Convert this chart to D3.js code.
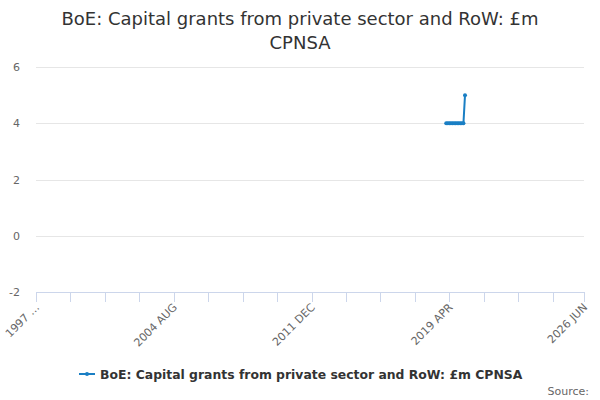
<!DOCTYPE html>
<html>
<head>
<meta charset="utf-8">
<script src="https://cdn.jsdelivr.net/npm/d3@7"></script>
<style>
  body { margin: 0; background: #fff; }
  text { font-family: "DejaVu Sans", sans-serif; }
</style>
</head>
<body>
<div id="chart"></div>
<script>
const width = 600;
const height = 400;
const marginLeft = 36;
const marginRight = 16;
const plotTop = 67;
const plotBottom = 292;

const titleLines = ["BoE: Capital grants from private sector and RoW: £m", "CPNSA"];
const seriesName = "BoE: Capital grants from private sector and RoW: £m CPNSA";

// monthly categories, 1997 APR .. 2026 JUN
const firstMonth = { year: 1997, month: 4 };
const lastMonth = { year: 2026, month: 6 };
const monthNames = ["JAN", "FEB", "MAR", "APR", "MAY", "JUN", "JUL", "AUG", "SEP", "OCT", "NOV", "DEC"];

// series values (only these months have data)
const dataMonths = [
  "2019 FEB", "2019 MAR", "2019 APR", "2019 MAY", "2019 JUN", "2019 JUL",
  "2019 AUG", "2019 SEP", "2019 OCT", "2019 NOV", "2019 DEC", "2020 JAN", "2020 FEB"
];
const dataValues = [4, 4, 4, 4, 4, 4, 4, 4, 4, 4, 4, 4, 5];

const yTicks = [-2, 0, 2, 4, 6];
const tickStep = 22;
const labelledTicks = ["1997 …", "2004 AUG", "2011 DEC", "2019 APR", "2026 JUN"];

const monthIndex = (label) => {
  const [y, m] = label.split(" ");
  return (+y - firstMonth.year) * 12 + monthNames.indexOf(m) - (firstMonth.month - 1);
};
const lastIndex = (lastMonth.year - firstMonth.year) * 12 + lastMonth.month - firstMonth.month;

const x = d3.scaleLinear()
  .domain([0, lastIndex])
  .range([marginLeft, width - marginRight]);

const y = d3.scaleLinear()
  .domain([-2, 6])
  .range([plotBottom, plotTop]);

const svg = d3.select("#chart").append("svg")
  .attr("width", width)
  .attr("height", height);

// Title
svg.append("text")
  .attr("x", width / 2)
  .attr("text-anchor", "middle")
  .attr("fill", "#333")
  .style("font-size", "18px")
  .selectAll("tspan")
  .data(titleLines)
  .join("tspan")
  .attr("x", width / 2)
  .attr("y", (d, i) => 25 + i * 24)
  .text(d => d);

// Gridlines + y labels
const yAxis = svg.append("g");
yAxis.selectAll("line")
  .data(yTicks.filter(d => d !== -2))
  .join("line")
  .attr("x1", marginLeft)
  .attr("x2", width - marginRight)
  .attr("y1", d => Math.round(y(d)) + 0.5)
  .attr("y2", d => Math.round(y(d)) + 0.5)
  .attr("stroke", "#e6e6e6");
yAxis.selectAll("text")
  .data(yTicks)
  .join("text")
  .attr("x", 20)
  .attr("y", d => y(d) + 4)
  .attr("text-anchor", "end")
  .attr("fill", "#666")
  .style("font-size", "11px")
  .text(d => d);

// X axis
const tickValues = d3.range(0, lastIndex, tickStep).concat([lastIndex]);
const labelFor = new Map([[0, labelledTicks[0]], [88, labelledTicks[1]], [176, labelledTicks[2]], [264, labelledTicks[3]], [lastIndex, labelledTicks[4]]]);

const xAxis = svg.append("g");
xAxis.append("line")
  .attr("x1", marginLeft)
  .attr("x2", width - marginRight)
  .attr("y1", plotBottom + 0.5)
  .attr("y2", plotBottom + 0.5)
  .attr("stroke", "#ccd6eb");
xAxis.selectAll(".tick")
  .data(tickValues)
  .join("line")
  .attr("class", "tick")
  .attr("x1", d => Math.round(x(d)) + 0.5)
  .attr("x2", d => Math.round(x(d)) + 0.5)
  .attr("y1", plotBottom)
  .attr("y2", plotBottom + 10)
  .attr("stroke", "#ccd6eb");
xAxis.selectAll(".xlabel")
  .data(tickValues.filter(d => labelFor.has(d)))
  .join("text")
  .attr("class", "xlabel")
  .attr("text-anchor", "end")
  .attr("fill", "#666")
  .style("font-size", "11px")
  .attr("transform", d => `translate(${x(d) + 4},${plotBottom + 16}) rotate(-45)`)
  .text(d => labelFor.get(d));

// Series
const color = "#1a7fc4";
const points = dataMonths.map((m, i) => ({ i: monthIndex(m), v: dataValues[i] }));
const line = d3.line().x(d => x(d.i)).y(d => y(d.v));
svg.append("path")
  .datum(points)
  .attr("fill", "none")
  .attr("stroke", color)
  .attr("stroke-width", 2)
  .attr("d", line);
svg.append("g")
  .selectAll("circle")
  .data(points)
  .join("circle")
  .attr("cx", d => x(d.i))
  .attr("cy", d => y(d.v))
  .attr("r", 2)
  .attr("fill", color);

// Legend
const legend = svg.append("g");
legend.append("line")
  .attr("x1", 79).attr("x2", 95)
  .attr("y1", 374).attr("y2", 374)
  .attr("stroke", color).attr("stroke-width", 2);
legend.append("circle")
  .attr("cx", 87).attr("cy", 374).attr("r", 2).attr("fill", color);
legend.append("text")
  .attr("x", 100)
  .attr("y", 378.5)
  .attr("fill", "#333")
  .style("font-size", "12.4px")
  .style("font-weight", "bold")
  .text(seriesName);

// Source
svg.append("text")
  .attr("x", 589)
  .attr("y", 395)
  .attr("text-anchor", "end")
  .attr("fill", "#666")
  .style("font-size", "11px")
  .text("Source:");
</script>
</body>
</html>
